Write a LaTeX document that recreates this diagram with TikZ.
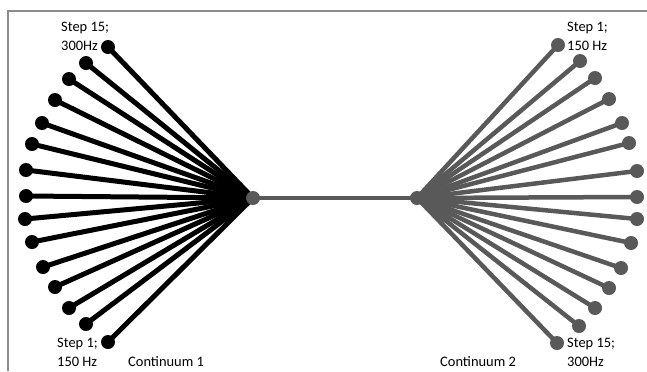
\documentclass[tikz,border=0pt]{standalone}
\usepackage{fontspec}
\setmainfont{Carlito}
\definecolor{fangray}{RGB}{89,89,89}
\definecolor{framegray}{RGB}{140,140,140}
\begin{document}
\begin{tikzpicture}[x=1bp,y=-1bp,font=\fontsize{14.5}{19}\selectfont,
        spoke/.style={line width=5bp},
        lbl/.style={anchor=base west,inner sep=0pt}]
        \useasboundingbox (0,0) rectangle (647,371);
        \draw [framegray,line width=1.5bp] (8,371) coordinate (f1) |- (647,11) coordinate (f2);
        \coordinate (h1) at (253,198);
        \coordinate (h2) at (417,198);
        % continuum 1, step 15 at the top
        \foreach \n/\x/\y in {15/108/47,14/86/63,13/69/79,12/55/100,11/42/123,10/32/144,9/26/170,8/26/196,
                7/25/219,6/32/242,5/43/267,4/55/287,3/69/308,2/86/324,1/108/342}
        {
            \coordinate (a\n) at (\x,\y);
            \draw [spoke] (a\n) -- (h1);
            \fill (a\n) circle (7);
        }
        \draw [fangray,line width=4bp] (h1) -- (h2);
        % continuum 2, step 1 at the top
        \foreach \n/\x/\y in {1/558/45,2/580/61,3/595/78,4/609/99,5/622/123,6/629/143,7/637/171,8/637/197,
                9/637/219,10/631/243,11/621/268,12/609/288,13/595/308,14/579/326,15/557/343}
        {
            \coordinate (b\n) at (\x,\y);
            \draw [spoke,fangray,line width=4.5bp] (b\n) -- (h2);
            \fill [fangray] (b\n) circle (7);
        }
        \fill [fangray] (h1) circle (7);
        \fill [fangray] (h2) circle (7);
        \node [lbl] (s15a) at (61,31) {Step 15;};
        \node [lbl] (s15b) at (61,50) {300Hz};
        \node [lbl] (s1a) at (57,347) {Step 1;};
        \node [lbl] (s1b) at (57,366) {150 Hz};
        \node [lbl] (c1) at (128,366) {Continuum 1};
        \node [lbl] (t1a) at (567,31) {Step 1;};
        \node [lbl] (t1b) at (567,50) {150 Hz};
        \node [lbl] (t15a) at (567,347) {Step 15;};
        \node [lbl] (t15b) at (567,366) {300Hz};
        \node [lbl] (c2) at (440,366) {Continuum 2};
\end{tikzpicture}
\end{document}
